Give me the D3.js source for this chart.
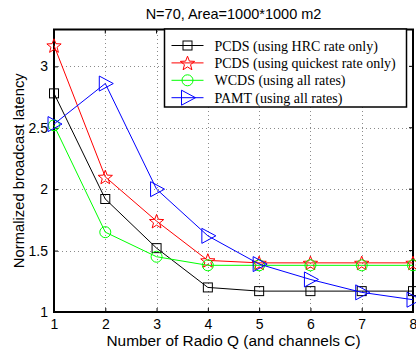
<!DOCTYPE html>
<html>
<head>
<meta charset="utf-8">
<script src="https://cdn.jsdelivr.net/npm/d3@7"></script>
<style>
  body { margin: 0; background: #fff; }
  svg { display: block; }
</style>
</head>
<body>
<div id="chart"></div>
<script>
// data
const radios = [1, 2, 3, 4, 5, 6, 7, 8];
const pcdsHrc = [2.78, 1.92, 1.52, 1.20, 1.17, 1.17, 1.17, 1.17];
const pcdsQuick = [3.17, 2.10, 1.74, 1.42, 1.40, 1.40, 1.40, 1.40];
const wcds = [2.52, 1.65, 1.45, 1.38, 1.38, 1.38, 1.38, 1.38];
const pamt = [2.53, 2.86, 2.00, 1.62, 1.39, 1.265, 1.16, 1.10];
const yTicks = [1, 1.5, 2, 2.5, 3];
const seriesNames = [
  'PCDS (using HRC rate only)',
  'PCDS (using quickest rate only)',
  'WCDS (using all rates)',
  'PAMT (using all rates)'
];

const series = [
  { name: seriesNames[0], values: pcdsHrc, color: '#000000', marker: 'square' },
  { name: seriesNames[1], values: pcdsQuick, color: '#ff0000', marker: 'star' },
  { name: seriesNames[2], values: wcds, color: '#00ff00', marker: 'circle' },
  { name: seriesNames[3], values: pamt, color: '#0000ff', marker: 'triangle' }
];

const W = 416, H = 356;
const margin = { top: 29.5, right: 3, bottom: 44, left: 54 };

const svg = d3.select('#chart').append('svg')
  .attr('width', W)
  .attr('height', H);

const x = d3.scaleLinear().domain([1, 8]).range([margin.left, 413]);
const y = d3.scaleLinear().domain([1, 3.3]).range([312, margin.top]);

const sans = 'Liberation Sans, Arial, Helvetica, sans-serif';

// grid
const grid = svg.append('g')
  .attr('stroke', '#8a8a8a')
  .attr('stroke-width', 1)
  .attr('stroke-dasharray', '1,3');
grid.selectAll('.gx').data(radios.slice(1, -1)).enter().append('line')
  .attr('x1', d => Math.round(x(d)) + 0.5).attr('x2', d => Math.round(x(d)) + 0.5)
  .attr('y1', y(1)).attr('y2', y(3.3));
grid.selectAll('.gy').data(yTicks.slice(1)).enter().append('line')
  .attr('y1', d => Math.round(y(d)) + 0.5).attr('y2', d => Math.round(y(d)) + 0.5)
  .attr('x1', x(1)).attr('x2', x(8));

// axes with inward ticks
const xAxis = svg.append('g')
  .attr('transform', `translate(0,${y(1)})`)
  .call(d3.axisBottom(x).tickValues(radios).tickSize(-4).tickPadding(7).tickFormat(d3.format('d')));
const yAxis = svg.append('g')
  .attr('transform', `translate(${x(1)},0)`)
  .call(d3.axisLeft(y).tickValues(yTicks).tickSize(-4).tickPadding(6).tickFormat(d => d));
[xAxis, yAxis].forEach(a => {
  a.select('.domain').remove();
  a.selectAll('line').attr('stroke', '#000');
  a.selectAll('text').attr('font-family', sans).attr('font-size', 14).attr('fill', '#000');
});
// top / right ticks
svg.append('g').selectAll('line').data(radios).enter().append('line')
  .attr('x1', d => x(d)).attr('x2', d => x(d))
  .attr('y1', y(3.3)).attr('y2', y(3.3) + 4).attr('stroke', '#000');
svg.append('g').selectAll('line').data(yTicks).enter().append('line')
  .attr('x1', x(8)).attr('x2', x(8) - 4)
  .attr('y1', d => y(d)).attr('y2', d => y(d)).attr('stroke', '#000');

// box
svg.append('rect')
  .attr('x', x(1)).attr('y', y(3.3))
  .attr('width', x(8) - x(1)).attr('height', y(1) - y(3.3))
  .attr('fill', 'none').attr('stroke', '#000').attr('stroke-width', 2);

// markers
function drawMarker(g, type, color) {
  if (type === 'square') {
    g.append('rect').attr('x', -4.5).attr('y', -4.5).attr('width', 9).attr('height', 9)
      .attr('fill', 'none').attr('stroke', color);
  } else if (type === 'circle') {
    g.append('circle').attr('r', 5.5).attr('fill', 'none').attr('stroke', color);
  } else if (type === 'star') {
    const pts = [];
    for (let i = 0; i < 10; i++) {
      const r = i % 2 === 0 ? 7.5 : 3.2;
      const a = -Math.PI / 2 + i * Math.PI / 5;
      pts.push([r * Math.cos(a), r * Math.sin(a) + 0.8]);
    }
    g.append('polygon').attr('points', pts.map(p => p.join(',')).join(' '))
      .attr('fill', 'none').attr('stroke', color);
  } else if (type === 'triangle') {
    g.append('polygon').attr('points', '-6,-7.5 8,0 -6,7.5')
      .attr('fill', 'none').attr('stroke', color);
  }
}

const line = d3.line().x(d => x(d[0])).y(d => y(d[1]));
const plot = svg.append('g');
series.forEach(s => {
  const pts = radios.map((r, i) => [r, s.values[i]]);
  plot.append('path').datum(pts)
    .attr('d', line).attr('fill', 'none')
    .attr('stroke', s.color).attr('stroke-width', 1);
  pts.forEach(p => {
    const g = plot.append('g').attr('transform', `translate(${x(p[0])},${y(p[1])})`);
    drawMarker(g, s.marker, s.color);
  });
});

// legend
const lg = svg.append('g').attr('transform', 'translate(164.5,29)');
lg.append('rect').attr('width', 242).attr('height', 78)
  .attr('fill', '#fff').attr('stroke', '#000').attr('stroke-width', 1.5);
series.forEach((s, i) => {
  const yy = 16.5 + i * 17.4;
  lg.append('line').attr('x1', 7).attr('x2', 39).attr('y1', yy).attr('y2', yy)
    .attr('stroke', s.color).attr('stroke-width', 1);
  const m = lg.append('g').attr('transform', `translate(23,${yy})`);
  drawMarker(m, s.marker, s.color);
  lg.append('text').attr('x', 50).attr('y', yy + 5)
    .attr('font-family', 'Liberation Serif, Times New Roman, serif')
    .attr('font-size', 14).attr('fill', '#000')
    .text(s.name);
});

// titles
svg.append('text').attr('x', 233.5).attr('y', 19)
  .attr('text-anchor', 'middle').attr('font-family', sans).attr('font-size', 14.5)
  .text('N=70, Area=1000*1000 m2');
svg.append('text').attr('x', 233.5).attr('y', 346)
  .attr('text-anchor', 'middle').attr('font-family', sans).attr('font-size', 15.4)
  .text('Number of Radio Q (and channels C)');
svg.append('text')
  .attr('transform', `translate(24,${(y(1) + y(3.3)) / 2}) rotate(-90)`)
  .attr('text-anchor', 'middle').attr('font-family', sans).attr('font-size', 14.8)
  .text('Normalized broadcast latency');
</script>
</body>
</html>
